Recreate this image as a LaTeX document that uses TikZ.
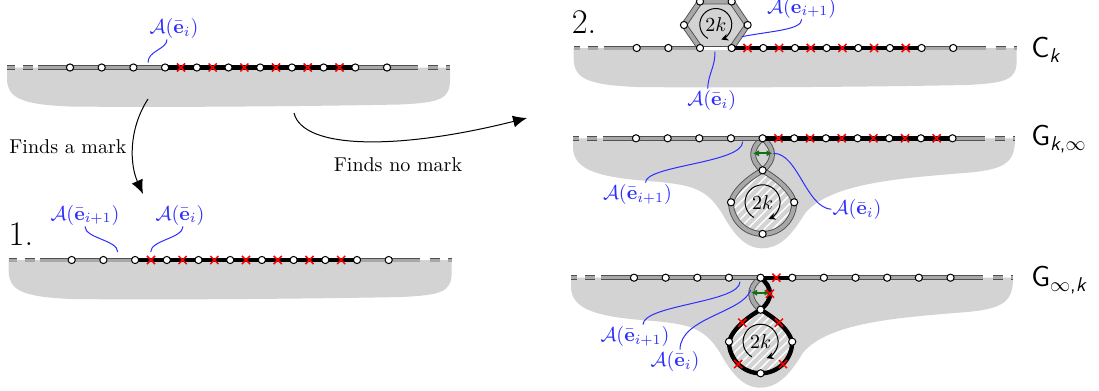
\documentclass[tikz,border=0pt]{standalone}
\usepackage{amsmath,amssymb}
\usetikzlibrary{arrows.meta,patterns.meta,shapes.misc,calc}
\definecolor{rg}{RGB}{211,211,211}
\definecolor{eout}{RGB}{80,80,80}
\definecolor{ein}{RGB}{168,168,168}
\definecolor{lblue}{RGB}{45,45,255}
\definecolor{dgreen}{RGB}{20,110,20}
\tikzset{
  region/.style={fill=rg},
  gedge/.style={draw=eout, line width=0.45pt, double=ein, double distance=1.5pt},
  hedge/.style={draw=eout, line width=0.45pt, double=ein, double distance=2pt, line join=round},
  wedge/.style={draw=eout, line width=0.45pt, double=white, double distance=1.5pt},
  bedge/.style={draw=black, line width=2.2pt, line join=round},
  dashend/.style={gedge, dash pattern=on 5pt off 4pt},
  vtx/.style={circle, draw=black, fill=white, line width=0.5pt, inner sep=0pt, minimum size=3.6pt},
  crs/.style={cross out, draw=red, line width=0.75pt, inner sep=0pt, minimum size=3.3pt},
  lbl/.style={text=lblue, inner sep=0.5pt},
  callout/.style={draw=lblue, line width=0.5pt},
  bigarrow/.style={draw=black, line width=0.5pt, -{Latex[length=7pt,width=6pt]}},
  garrow/.style={draw=dgreen, line width=0.9pt, {Latex[length=3pt,width=3.2pt]}-{Latex[length=3pt,width=3.2pt]}},
  rotarrow/.style={draw=black, line width=0.5pt, -{Stealth[length=3.5pt,width=3.5pt]}},
  hatch/.style={pattern={Lines[angle=45,distance=3pt,line width=0.7pt]}, pattern color=white},
  side/.style={font=\Large\sffamily, anchor=west, inner sep=0pt},
  num/.style={font=\LARGE, inner sep=0pt},
}
\begin{document}
\begin{tikzpicture}[x=0.5pt,y=-0.5pt]
\useasboundingbox (0,0) rectangle (1099,391);

% ================= Panel 0 =================
\begin{scope}[shift={(0,67.5)}]
  \fill[region] (7,0) -- (450,0) -- (450,12) .. controls (450,32) and (440,35) .. (400,37) .. controls (300,39) and (150,40) .. (70,39) .. controls (20,37) and (8,30) .. (7,12) -- cycle;
  \foreach \k in {0,...,10} \coordinate (a\k) at ({70+31.7*\k},0);
  \coordinate (aL) at (38,0); \coordinate (aR) at (418,0);
  \coordinate (aD1) at (33,0); \coordinate (aD2) at (7,0);
  \coordinate (aD3) at (428,0); \coordinate (aD4) at (450,0);
  \draw[dashend] (aD1) -- (aD2);
  \draw[dashend] (aD3) -- (aD4);
  \draw[gedge] (aL) -- (a3);
  \draw[gedge] (a9) -- (aR);
  \draw[bedge] (a3) -- (a9);
  \foreach \k in {3,...,8} \node[crs] (ax\k) at ({70+31.7*(\k+0.5)},0) {};
  \foreach \k in {0,...,10} \node[vtx] (av\k) at (a\k) {};
  \node[lbl] (al) at (174,-39.5) {$\mathcal{A}(\bar{\mathbf{e}}_i)$};
  \coordinate (aq) at (148,-5);
  \draw[callout] (aq) .. controls +(0,-12) and +(0,10) .. ([xshift=-3.5pt]al.south);
\end{scope}

% ================= Panel 1 =================
\begin{scope}[shift={(1.7,260)}]
  \fill[region] (7,0) -- (450,0) -- (450,12) .. controls (450,32) and (440,35) .. (400,37) .. controls (300,39) and (150,40) .. (70,39) .. controls (20,37) and (8,30) .. (7,12) -- cycle;
  \foreach \k in {0,...,10} \coordinate (b\k) at ({70+31.7*\k},0);
  \coordinate (bL) at (38,0); \coordinate (bR) at (418,0);
  \coordinate (bD1) at (33,0); \coordinate (bD2) at (7,0);
  \coordinate (bD3) at (428,0); \coordinate (bD4) at (450,0);
  \draw[dashend] (bD1) -- (bD2);
  \draw[dashend] (bD3) -- (bD4);
  \draw[gedge] (bL) -- (b2);
  \draw[gedge] (b9) -- (bR);
  \draw[bedge] (b2) -- (b9);
  \foreach \k in {2,...,8} \node[crs] (bx\k) at ({70+31.7*(\k+0.5)},0) {};
  \foreach \k in {0,...,10} \node[vtx] (bv\k) at (b\k) {};
  \node[lbl] (bl1) at (83.3,-45) {$\mathcal{A}(\bar{\mathbf{e}}_{i+1})$};
  \node[lbl] (bl2) at (178.3,-45) {$\mathcal{A}(\bar{\mathbf{e}}_i)$};
  \coordinate (bq1) at (116,-8);
  \coordinate (bq2) at (149,-8);
  \draw[callout] (bq1) .. controls +(0,-12) and +(0,12) .. (bl1.south);
  \draw[callout] (bq2) .. controls +(0,-12) and +(0,12) .. ([xshift=1.5pt]bl2.south);
\end{scope}
\node[num] (n1) at (21,234) {1.};

% ================= Arrows =================
\coordinate (f1s) at (148,99); \coordinate (f1e) at (143,194);
\draw[bigarrow] (f1s) .. controls (128,130) and (130,165) .. (f1e);
\node (f1l) at (68,147) {Finds a mark};
\coordinate (f2s) at (294,113); \coordinate (f2e) at (527,118);
\draw[bigarrow] (f2s) .. controls (303,150) and (400,150) .. (f2e);
\node (f2l) at (398,165) {Finds no mark};

% ================= Panel 2 (C_k) =================
\begin{scope}[shift={(0.7,48)}]
  \fill[region] (573,0) -- (1016,0) -- (1016,12) .. controls (1016,32) and (1006,35) .. (966,37) .. controls (866,39) and (716,40) .. (636,39) .. controls (586,37) and (574,30) .. (573,12) -- cycle;
  \foreach \k in {0,...,10} \coordinate (c\k) at ({636+31.65*\k},0);
  \coordinate (cL) at (603,0); \coordinate (cR) at (985,0);
  \coordinate (cD1) at (597,0); \coordinate (cD2) at (573,0);
  \coordinate (cD3) at (995,0); \coordinate (cD4) at (1016,0);
  \draw[dashend] (cD1) -- (cD2);
  \draw[dashend] (cD3) -- (cD4);
  \coordinate (hL) at (683.3,-23); \coordinate (hTL) at (699.3,-46.5);
  \coordinate (hTR) at (730.95,-46.5); \coordinate (hR) at (746.9,-23);
  \coordinate (hC) at (715.1,-23.5);
  \fill[rg] (c2) -- (hL) -- (hTL) -- (hTR) -- (hR) -- (c3) -- cycle;
  \draw[hedge] (c2) -- (hL) -- (hTL) -- (hTR) -- (hR) -- (c3);
  \draw[gedge] (cL) -- (c2);
  \draw[wedge] (c2) -- (c3);
  \draw[bedge] (c3) -- (c9);
  \draw[gedge] (c9) -- (cR);
  \draw[rotarrow] (hC) ++(-240:16) arc[start angle=-240, end angle=70, radius=16];
  \node (h2k) at (hC) {$2k$};
  \foreach \k in {3,...,8} \node[crs] (cx\k) at ({636+31.65*(\k+0.5)},0) {};
  \foreach \k in {0,...,10} \node[vtx] (cv\k) at (c\k) {};
  \node[vtx] (hvL) at (hL) {}; \node[vtx] (hvTL) at (hTL) {};
  \node[vtx] (hvTR) at (hTR) {}; \node[vtx] (hvR) at (hR) {};
  \node[lbl] (cl1) at (801,-40) {$\mathcal{A}(\mathbf{e}_{i+1})$};
  \node[lbl] (cl2) at (711,52) {$\mathcal{A}(\bar{\mathbf{e}}_i)$};
  \coordinate (cq1) at (741,-11.3);
  \coordinate (cq2) at (714.3,3.7);
  \draw[callout] (cq1) .. controls (770,-17) and (801,-18) .. (cl1.south);
  \draw[callout] (cq2) .. controls (714.3,20) and (707.6,25) .. ([xshift=-2pt]cl2.north);
\end{scope}
\node[num] (n2) at (584,22) {2.};
\node[side] (sck) at (1031,50) {C\textsubscript{\textit{k}}};

% ================= Panel 3 (G_{k,inf}) =================
\begin{scope}[shift={(0,138.3)}]
  \fill[region] (573,0) -- (1015,0) .. controls (1015,25) and (1005,32) .. (960,35) .. controls (900,40) and (830,45) .. (805,75) .. controls (790,100) and (778,110) .. (762,110) .. controls (745,110) and (733,95) .. (722,75) .. controls (705,48) and (690,46) .. (640,42) .. controls (595,38) and (574,30) .. (573,10) -- cycle;
  \foreach \k in {0,...,10} \coordinate (d\k) at ({636+31.65*\k},0);
  \coordinate (dL) at (603,0); \coordinate (dR) at (985,0);
  \coordinate (dD1) at (597,0); \coordinate (dD2) at (573,0);
  \coordinate (dD3) at (995,0); \coordinate (dD4) at (1015,0);
  \draw[dashend] (dD1) -- (dD2);
  \draw[dashend] (dD3) -- (dD4);
  \coordinate (dT) at (762.6,32); \coordinate (dLl) at (731,64);
  \coordinate (dB) at (762.6,95.6); \coordinate (dRr) at (794.2,64);
  \coordinate (dC) at (762.6,64);
  \fill[hatch] (dT) .. controls (752,38) and (735,50) .. (dLl) .. controls (731,81.5) and (745.1,95.6) .. (dB) .. controls (780.1,95.6) and (794.2,81.5) .. (dRr) .. controls (790.2,50) and (773.2,38) .. (dT) -- cycle;
  \draw[hedge] (dT) .. controls (752,38) and (735,50) .. (dLl) .. controls (731,81.5) and (745.1,95.6) .. (dB) .. controls (780.1,95.6) and (794.2,81.5) .. (dRr) .. controls (790.2,50) and (773.2,38) .. (dT) -- cycle;
  \draw[hedge] (d4) .. controls (750,10) and (750,22) .. (dT);
  \draw[hedge] (d4) .. controls (775.2,10) and (775.2,22) .. (dT);
  \draw[gedge] (dL) -- (d4);
  \draw[bedge] (d4) -- (d10);
  \draw[gedge] (d10) -- (dR);
  \coordinate (dg1) at (753,15); \coordinate (dg2) at (772.5,15);
  \draw[garrow] (dg1) -- (dg2);
  \draw[rotarrow] (dC) ++(-240:17.5) arc[start angle=-240, end angle=70, radius=17.5];
  \node (d2k) at (dC) {$2k$};
  \foreach \k in {4,...,9} \node[crs] (dx\k) at ({636+31.65*(\k+0.5)},0) {};
  \foreach \k in {0,...,10} \node[vtx] (dv\k) at (d\k) {};
  \node[vtx] (dvT) at (dT) {}; \node[vtx] (dvL) at (dLl) {};
  \node[vtx] (dvB) at (dB) {}; \node[vtx] (dvR) at (dRr) {};
  \node[lbl] (dl1) at (637.5,55.7) {$\mathcal{A}(\bar{\mathbf{e}}_{i+1})$};
  \node[lbl] (dl2) at (857,71) {$\mathcal{A}(\bar{\mathbf{e}}_i)$};
  \coordinate (dq1) at (742.7,3.4);
  \coordinate (dq2) at (773.5,15);
  \draw[callout] (dq1) .. controls (742.7,25) and (645,27) .. ([xshift=4pt]dl1.north);
  \draw[callout] (dq2) .. controls (798,15) and (806,69) .. (dl2.west);
\end{scope}
\node[side] (sgk) at (1031,139) {G\textsubscript{\textit{k},$\infty$}};

% ================= Panel 4 (G_{inf,k}) =================
\begin{scope}[shift={(-2,277.7)}]
  \fill[region] (573,0) -- (1015,0) .. controls (1015,25) and (1005,32) .. (960,35) .. controls (900,40) and (830,45) .. (805,75) .. controls (790,100) and (778,110) .. (762,110) .. controls (745,110) and (733,95) .. (722,75) .. controls (705,48) and (690,46) .. (640,42) .. controls (595,38) and (574,30) .. (573,10) -- cycle;
  \foreach \k in {0,...,10} \coordinate (e\k) at ({636+31.65*\k},0);
  \coordinate (eL) at (603,0); \coordinate (eR) at (985,0);
  \coordinate (eD1) at (597,0); \coordinate (eD2) at (573,0);
  \coordinate (eD3) at (995,0); \coordinate (eD4) at (1015,0);
  \draw[dashend] (eD1) -- (eD2);
  \draw[dashend] (eD3) -- (eD4);
  \coordinate (eT) at (762.6,32); \coordinate (eLl) at (731,64);
  \coordinate (eB) at (762.6,95.6); \coordinate (eRr) at (794.2,64);
  \coordinate (eC) at (762.6,64);
  \fill[hatch] (eT) .. controls (752,38) and (735,50) .. (eLl) .. controls (731,81.5) and (745.1,95.6) .. (eB) .. controls (780.1,95.6) and (794.2,81.5) .. (eRr) .. controls (790.2,50) and (773.2,38) .. (eT) -- cycle;
  \draw[bedge] (eT) .. controls (752,38) and (735,50) .. (eLl) .. controls (731,81.5) and (745.1,95.6) .. (eB) .. controls (780.1,95.6) and (794.2,81.5) .. (eRr) .. controls (790.2,50) and (773.2,38) .. (eT) -- cycle;
  \draw[hedge] (e4) .. controls (750,10) and (750,22) .. (eT);
  \draw[bedge] (e4) .. controls (775.2,10) and (775.2,22) .. (eT);
  \draw[gedge] (eL) -- (e4);
  \draw[bedge] (e4) -- (e5);
  \draw[gedge] (e5) -- (eR);
  \coordinate (eg1) at (753,15); \coordinate (eg2) at (772.5,15);
  \draw[garrow] (eg1) -- (eg2);
  \draw[rotarrow] (eC) ++(-240:17.5) arc[start angle=-240, end angle=70, radius=17.5];
  \node (e2k) at (eC) {$2k$};
  \node[crs] (ex0) at ({636+31.65*4.5},0) {};
  \node[crs] (ex1) at (771.9,16) {};
  \node[crs] (ex2) at (744.3,45) {};
  \node[crs] (ex3) at (780.9,45) {};
  \node[crs] (ex4) at (740.2,86.4) {};
  \node[crs] (ex5) at (785,86.4) {};
  \foreach \k in {0,...,10} \node[vtx] (ev\k) at (e\k) {};
  \node[vtx] (evT) at (eT) {}; \node[vtx] (evL) at (eLl) {};
  \node[vtx] (evB) at (eB) {}; \node[vtx] (evR) at (eRr) {};
  \node[lbl] (el1) at (637,58.3) {$\mathcal{A}(\bar{\mathbf{e}}_{i+1})$};
  \node[lbl] (el2) at (677,83.3) {$\mathcal{A}(\bar{\mathbf{e}}_i)$};
  \coordinate (eq1) at (742,4);
  \coordinate (eq2) at (752.7,12.3);
  \draw[callout] (eq1) .. controls (742,25) and (645,27) .. ([xshift=4pt]el1.north);
  \draw[callout] (eq2) .. controls (745,35) and (682,40) .. ([xshift=2.5pt]el2.north);
\end{scope}
\node[side] (sgi) at (1031,280) {G\textsubscript{$\infty$,\textit{k}}};
\end{tikzpicture}
\end{document}
